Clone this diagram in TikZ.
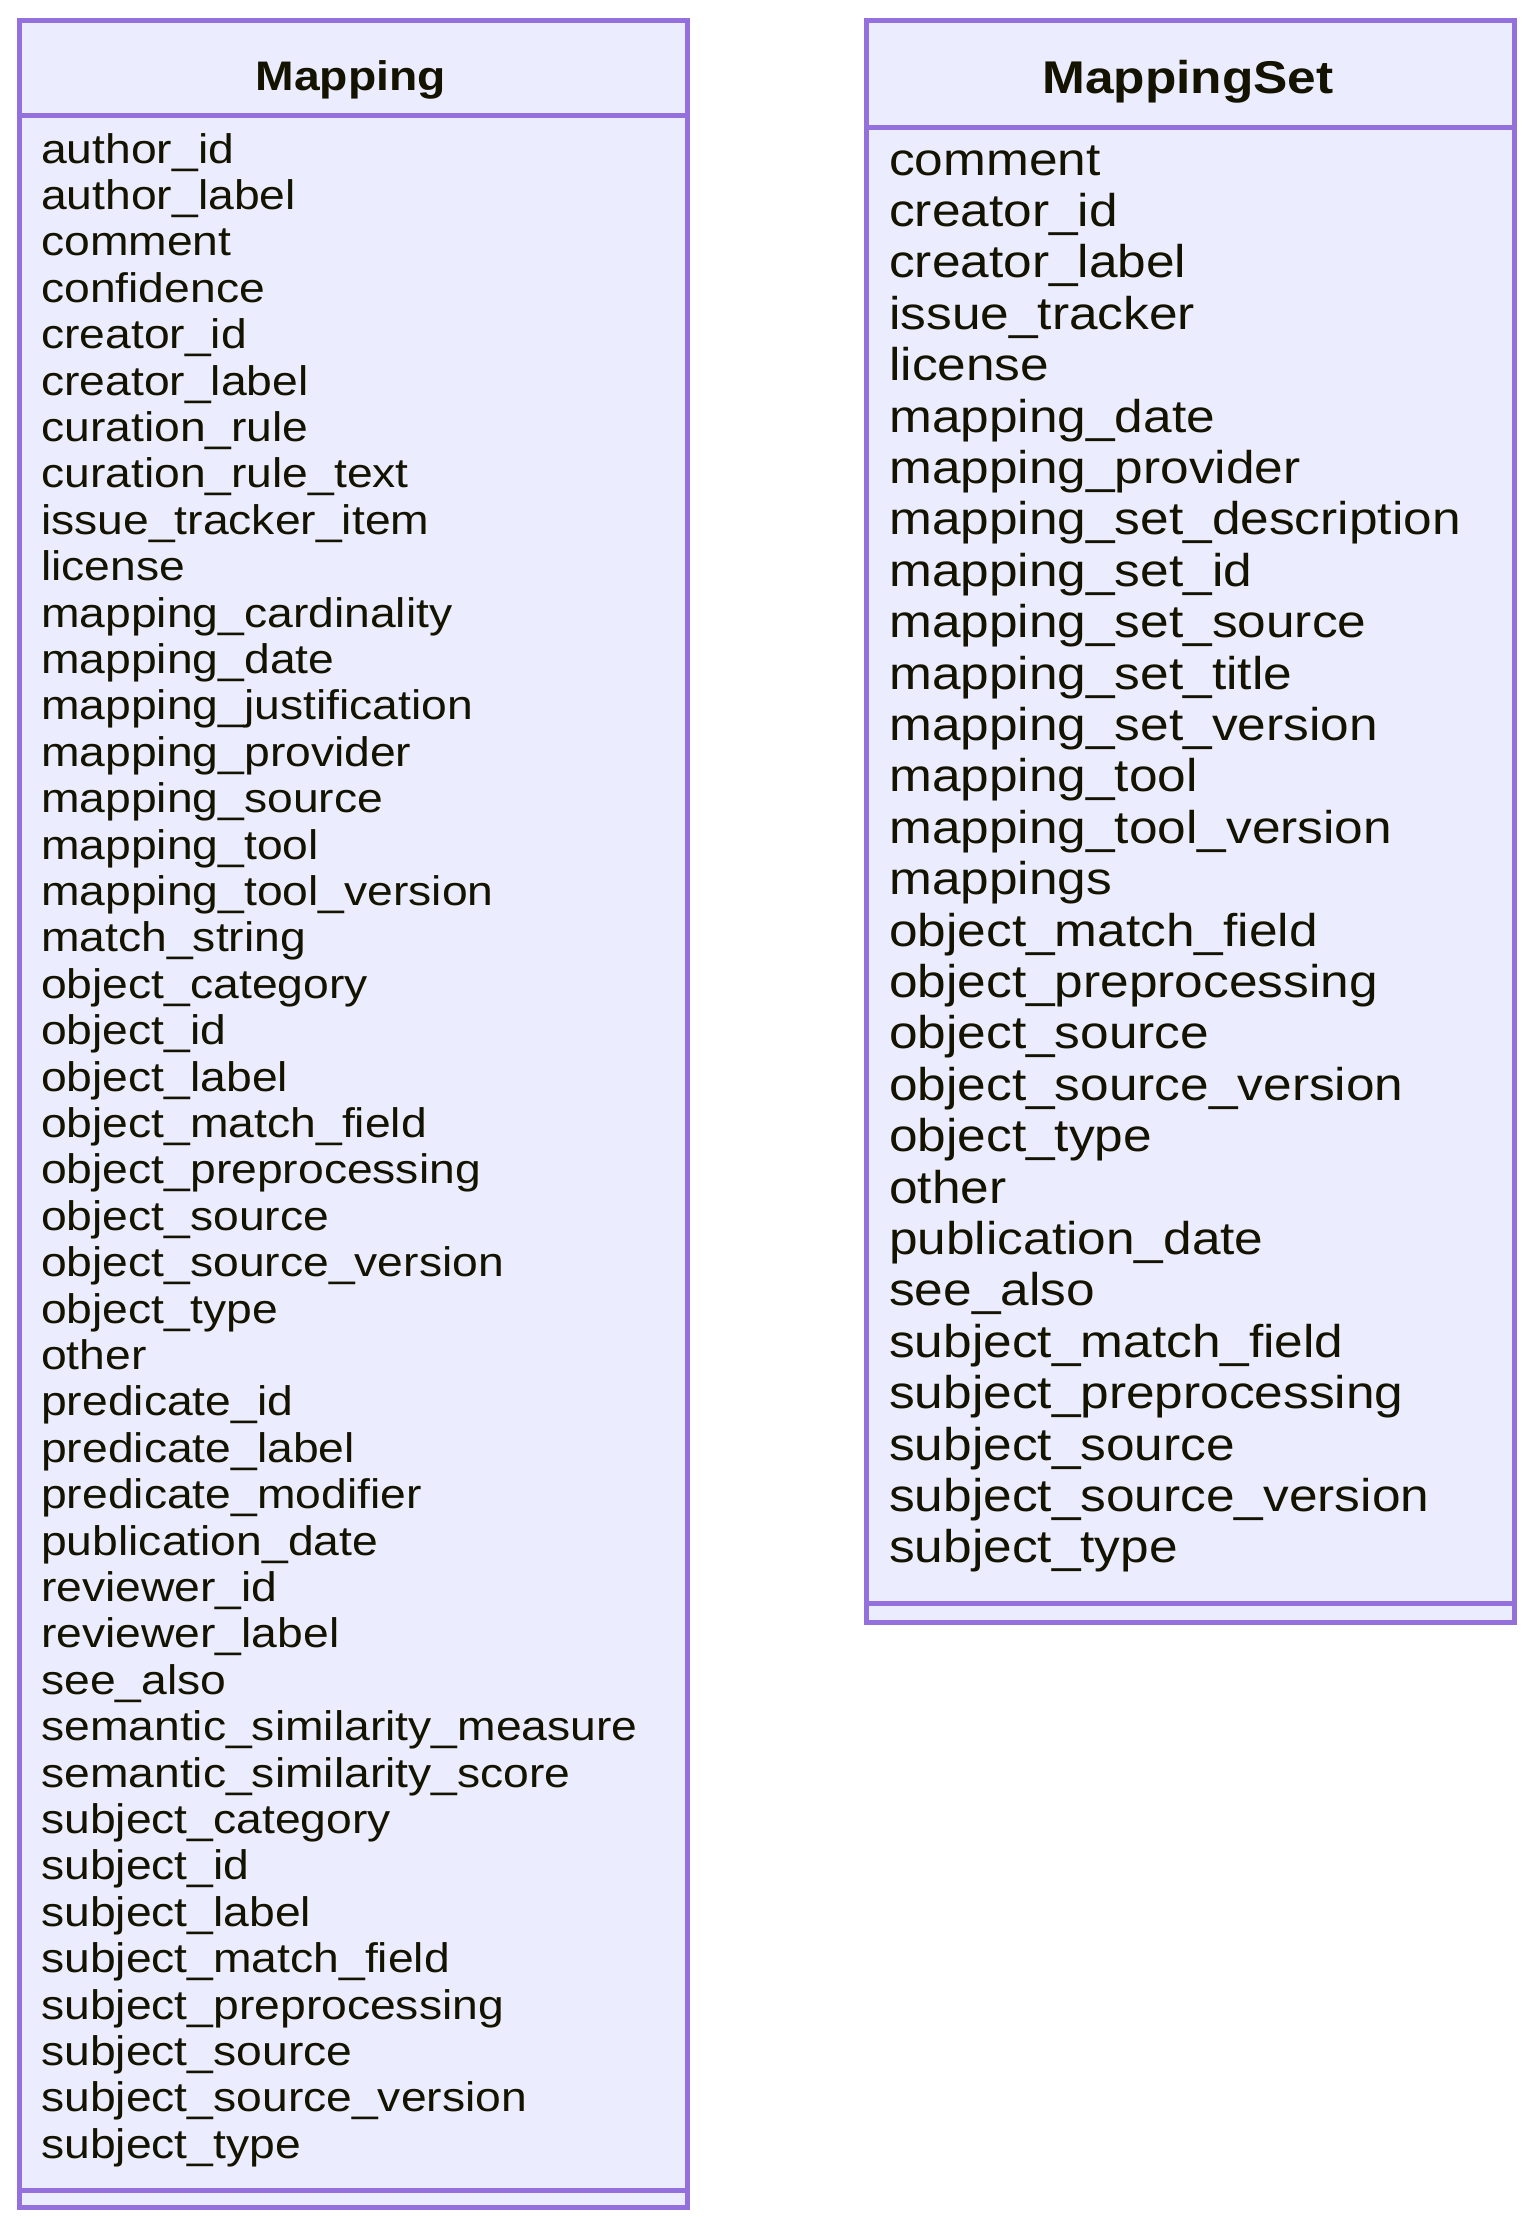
\documentclass[tikz,border=0pt]{standalone}
\usepackage{fontspec}
\setmainfont{Liberation Sans}[FakeStretch=1.12]
\usetikzlibrary{calc}
\definecolor{classfill}{HTML}{ECECFF}
\definecolor{classstroke}{HTML}{9370DB}
\definecolor{classtext}{HTML}{131300}
\tikzset{
  classbox/.style={draw=classstroke, fill=classfill, line width=5pt,
    inner sep=0pt, anchor=north west},
  divider/.style={draw=classstroke, line width=5pt},
  mrow/.style={anchor=base west, inner sep=0pt, text=classtext,
    font=\fontsize{41.3}{41.3}\selectfont},
  srow/.style={anchor=base west, inner sep=0pt, text=classtext,
    font=\fontsize{45.9}{45.9}\selectfont},
  mhead/.style={anchor=base, inner sep=0pt, text=classtext,
    font=\bfseries\fontsize{41.3}{41.3}\selectfont},
  shead/.style={anchor=base, inner sep=0pt, text=classtext,
    font=\bfseries\fontsize{45.9}{45.9}\selectfont},
}
\begin{document}
\begin{tikzpicture}[x=1pt,y=-1pt]
\useasboundingbox (0,0) rectangle (1530,2217);

% ---- class Mapping ----
\node[classbox, minimum width=667.5pt, minimum height=2187pt] (mapping) at (17,18) {};
\draw[divider] ($(mapping.north west)+(0,97.5)$) -- ($(mapping.north east)+(0,97.5)$);
\draw[divider] ($(mapping.south west)+(0,-20)$) -- ($(mapping.south east)+(0,-20)$);
\node[mhead] (mappingtitle) at (350.75,90) {Mapping};
\foreach \t [count=\i] in {
  author\_id, author\_label, comment, confidence, creator\_id, creator\_label,
  curation\_rule, curation\_rule\_text, issue\_tracker\_item, license,
  mapping\_cardinality, mapping\_date, mapping\_justification, mapping\_provider,
  mapping\_source, mapping\_tool, mapping\_tool\_version, match\_string,
  object\_category, object\_id, object\_label, object\_match\_field,
  object\_preprocessing, object\_source, object\_source\_version, object\_type,
  other, predicate\_id, predicate\_label, predicate\_modifier, publication\_date,
  reviewer\_id, reviewer\_label, see\_also, semantic\_similarity\_measure,
  semantic\_similarity\_score, subject\_category, subject\_id, subject\_label,
  subject\_match\_field, subject\_preprocessing, subject\_source,
  subject\_source\_version, subject\_type}
  \node[mrow] (m\i) at (41,{163+46.4*(\i-1)}) {\t};

% ---- class MappingSet ----
\node[classbox, minimum width=648pt, minimum height=1602pt] (mappingset) at (864,18) {};
\draw[divider] ($(mappingset.north west)+(0,109)$) -- ($(mappingset.north east)+(0,109)$);
\draw[divider] ($(mappingset.south west)+(0,-21.5)$) -- ($(mappingset.south east)+(0,-21.5)$);
\node[shead] (mappingsettitle) at (1188,93) {MappingSet};
\foreach \t [count=\i] in {
  comment, creator\_id, creator\_label, issue\_tracker, license, mapping\_date,
  mapping\_provider, mapping\_set\_description, mapping\_set\_id,
  mapping\_set\_source, mapping\_set\_title, mapping\_set\_version, mapping\_tool,
  mapping\_tool\_version, mappings, object\_match\_field, object\_preprocessing,
  object\_source, object\_source\_version, object\_type, other, publication\_date,
  see\_also, subject\_match\_field, subject\_preprocessing, subject\_source,
  subject\_source\_version, subject\_type}
  \node[srow] (s\i) at (889,{175+51.4*(\i-1)}) {\t};
\end{tikzpicture}
\end{document}
